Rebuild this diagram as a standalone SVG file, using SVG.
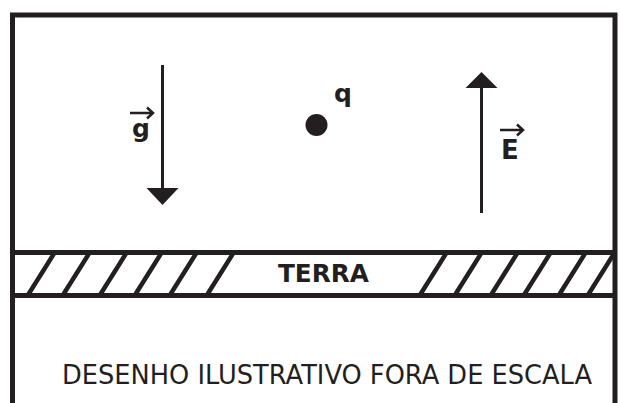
<svg xmlns="http://www.w3.org/2000/svg" width="620" height="403" viewBox="0 0 620 403">
<style>
.ln{stroke:#231f20;fill:none}
.b{font-family:"DejaVu Sans",Verdana,sans-serif;font-weight:bold;fill:#231f20}
.r{font-family:"DejaVu Sans",Verdana,sans-serif;fill:#231f20}
</style>
<rect width="620" height="403" fill="#fff"/>
<g id="frame">
<path class="ln" d="M12.5,403 V15 H615 V403" stroke-width="5"/>
</g>
<g id="ground">
<line class="ln" x1="12" y1="252.5" x2="616" y2="252.5" stroke-width="5"/>
<line class="ln" x1="12" y1="295.5" x2="616" y2="295.5" stroke-width="5"/>
<g class="ln" stroke-width="4.5">
<line x1="28" y1="295" x2="55" y2="252"/>
<line x1="63" y1="295" x2="90" y2="252"/>
<line x1="100" y1="295" x2="127" y2="252"/>
<line x1="135" y1="295" x2="162" y2="252"/>
<line x1="170" y1="295" x2="197" y2="252"/>
<line x1="207" y1="295" x2="234" y2="252"/>
<line x1="420" y1="295" x2="447" y2="252"/>
<line x1="455" y1="295" x2="482" y2="252"/>
<line x1="491" y1="295" x2="518" y2="252"/>
<line x1="524" y1="295" x2="551" y2="252"/>
<line x1="559" y1="295" x2="586" y2="252"/>
<line x1="588" y1="295" x2="615" y2="252"/>
</g>
<text class="b" x="278" y="282" font-size="25" textLength="91" lengthAdjust="spacingAndGlyphs">TERRA</text>
</g>
<g id="connectors">
<line class="ln" x1="162.5" y1="65" x2="162.5" y2="190" stroke-width="3"/>
<polygon points="146.5,188 178.5,188 162.5,205" fill="#231f20"/>
<line class="ln" x1="481.5" y1="213" x2="481.5" y2="86" stroke-width="3"/>
<polygon points="465.5,88 497.5,88 481.5,72" fill="#231f20"/>
</g>
<g id="g-label">
<text class="b" x="141" y="137" font-size="25" text-anchor="middle">g</text>
<path class="ln" d="M130,113 H152 M147,107.5 L153,113 L147,118.5" stroke-width="2.5"/>
</g>
<g id="charge">
<circle cx="316.5" cy="125" r="11" fill="#231f20"/>
<text class="b" x="343" y="102" font-size="25" text-anchor="middle">q</text>
</g>
<g id="E-label">
<text class="b" x="510" y="159" font-size="26" text-anchor="middle">E</text>
<path class="ln" d="M500,130 H522 M517,124.5 L523,130 L517,135.5" stroke-width="2.5"/>
</g>
<g id="note">
<text class="r" x="327" y="384" font-size="26" text-anchor="middle" textLength="530" lengthAdjust="spacingAndGlyphs">DESENHO ILUSTRATIVO FORA DE ESCALA</text>
</g>
</svg>
